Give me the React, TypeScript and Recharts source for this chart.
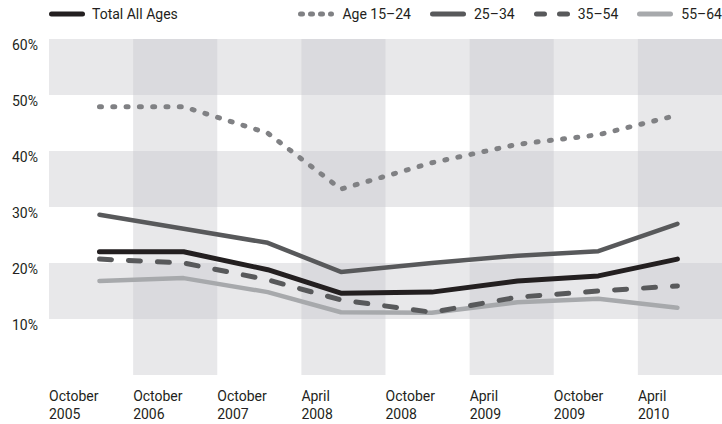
import React from 'react';
import { LineChart, Line, XAxis, YAxis, ReferenceArea } from 'recharts';

// Period labels (one per shaded column) and where each reading sits inside its column
const periodLabels = [
  ['October', '2005'],
  ['October', '2006'],
  ['October', '2007'],
  ['April', '2008'],
  ['October', '2008'],
  ['April', '2009'],
  ['October', '2009'],
  ['April', '2010'],
];
const periodX = [0.6, 1.6, 2.6, 3.47, 4.55, 5.57, 6.53, 7.47];

// Unemployment rate, %
const totalAllAges = [22.0, 22.0, 18.8, 14.6, 14.8, 16.8, 17.7, 20.7];
const age1524 = [47.9, 47.9, 43.2, 33.2, 37.9, 41.2, 42.9, 46.4];
const age2534 = [28.6, 26.1, 23.6, 18.4, 20.0, 21.3, 22.1, 27.0];
const age3554 = [20.7, 20.0, 17.0, 13.4, 11.2, 13.9, 15.0, 15.9];
const age5564 = [16.8, 17.3, 14.8, 11.2, 11.1, 13.0, 13.6, 12.0];

const yTicks = [10, 20, 30, 40, 50, 60];

const FONT = 'Roboto, "Noto Sans", sans-serif';
const TEXT = '#231f20';
const BAND = '#c8c8cc';

type SeriesDef = {
  key: string;
  name: string;
  color: string;
  width: number;
  dash?: string;
  legendDash?: string;
};

const series: SeriesDef[] = [
  { key: 'total', name: 'Total All Ages', color: '#231f20', width: 5 },
  { key: 'a1524', name: 'Age 15\u201324', color: '#808184', width: 5, dash: '2 11.3', legendDash: '2 8' },
  { key: 'a2534', name: '25\u201334', color: '#58595b', width: 4.5 },
  { key: 'a3554', name: '35\u201354', color: '#58595b', width: 5, dash: '12 17', legendDash: '8 15' },
  { key: 'a5564', name: '55\u201364', color: '#a7a9ac', width: 4.5 },
];

const data = periodX.map((x, i) => ({
  x,
  total: totalAllAges[i],
  a1524: age1524[i],
  a2534: age2534[i],
  a3554: age3554[i],
  a5564: age5564[i],
}));

const rowBands = [
  [50, 60],
  [30, 40],
  [10, 20],
];
const colBands = [1, 3, 5, 7];

function XTick({ x, y, payload }: any) {
  const lbl = periodLabels[payload.value] || ['', ''];
  return (
    <text x={x} y={y} fill={TEXT} fontFamily={FONT} fontSize={14} textAnchor="start">
      <tspan x={x} dy={26}>{lbl[0]}</tspan>
      <tspan x={x} dy={18}>{lbl[1]}</tspan>
    </text>
  );
}

function YTick({ x, y, payload }: any) {
  return (
    <text x={x - 11} y={y + 11} fill={TEXT} fontFamily={FONT} fontSize={14} textAnchor="end">
      {payload.value}%
    </text>
  );
}

function Swatch({ s }: { s: SeriesDef }) {
  return (
    <svg width={36} height={10} style={{ display: 'block' }}>
      <line
        x1={2.5}
        y1={5}
        x2={33.5}
        y2={5}
        stroke={s.color}
        strokeWidth={5}
        strokeLinecap="round"
        strokeDasharray={s.legendDash}
      />
    </svg>
  );
}

function LegendRow() {
  const [first, ...rest] = series;
  return (
    <div
      style={{
        position: 'absolute',
        left: 0,
        top: 0,
        width: 722,
        height: 28,
        display: 'flex',
        alignItems: 'center',
        fontFamily: FONT,
        fontSize: 14,
        color: TEXT,
      }}
    >
      <div style={{ marginLeft: 49, display: 'flex', alignItems: 'center' }}>
        <Swatch s={first} />
        <span style={{ marginLeft: 7 }}>{first.name}</span>
      </div>
      <div style={{ flex: 1 }} />
      {rest.map((s, i) => (
        <div key={s.key} style={{ marginLeft: i === 0 ? 0 : 19, display: 'flex', alignItems: 'center' }}>
          <Swatch s={s} />
          <span style={{ marginLeft: 8 }}>{s.name}</span>
        </div>
      ))}
    </div>
  );
}

export default function App() {
  const drawOrder = ['a5564', 'a3554', 'a2534', 'a1524', 'total'];
  return (
    <div style={{ position: 'absolute', left: 0, top: 0, width: 722, height: 424, background: '#fff' }}>
      <LineChart width={722} height={424} data={data} margin={{ top: 39, right: 0, bottom: 0, left: 0 }}>
        {rowBands.map(([y1, y2]) => (
          <ReferenceArea key={'r' + y1} x1={0} x2={8} y1={y1} y2={y2} fill={BAND} fillOpacity={0.41} stroke="none" />
        ))}
        {colBands.map((c) => (
          <ReferenceArea key={'c' + c} x1={c} x2={c + 1} y1={0} y2={60} fill={BAND} fillOpacity={0.41} stroke="none" />
        ))}
        <XAxis
          dataKey="x"
          type="number"
          domain={[0, 8]}
          ticks={[0, 1, 2, 3, 4, 5, 6, 7]}
          interval={0}
          height={49}
          axisLine={false}
          tickLine={false}
          tickSize={0}
          tickMargin={0}
          tick={<XTick />}
        />
        <YAxis
          type="number"
          domain={[0, 60]}
          ticks={yTicks}
          width={49}
          axisLine={false}
          tickLine={false}
          tickSize={0}
          tickMargin={0}
          tick={<YTick />}
        />
        {drawOrder.map((k) => {
          const s = series.find((d) => d.key === k)!;
          return (
            <Line
              key={s.key}
              type="linear"
              dataKey={s.key}
              name={s.name}
              stroke={s.color}
              strokeWidth={s.width}
              strokeDasharray={s.dash}
              strokeLinecap="round"
              strokeLinejoin="round"
              dot={false}
              activeDot={false}
              isAnimationActive={false}
            />
          );
        })}
      </LineChart>
      <LegendRow />
    </div>
  );
}
